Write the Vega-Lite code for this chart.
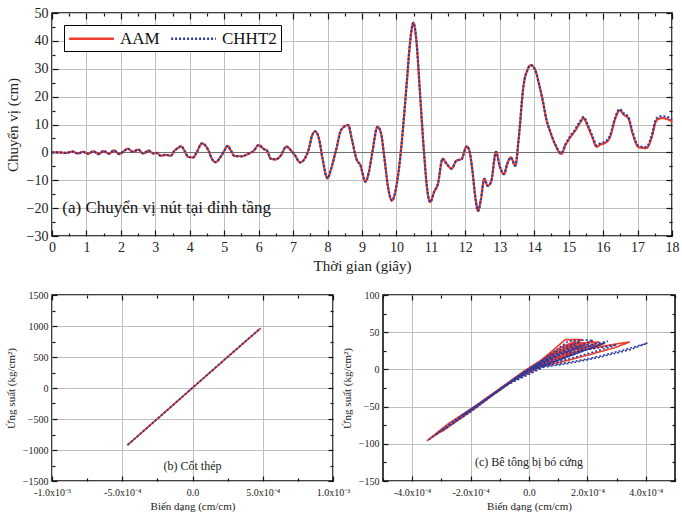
{
  "$schema": "https://vega.github.io/schema/vega-lite/v6.json",
  "background": "#ffffff",
  "padding": {"left": 4, "top": 5, "right": 5, "bottom": 5},
  "config": {
    "font": "Liberation Serif",
    "view": {"stroke": "#000", "strokeWidth": 1.5},
    "axis": {"labelFont": "Liberation Serif", "titleFont": "Liberation Serif", "titleFontWeight": "normal", "labelColor": "#222", "titleColor": "#222", "domain": false, "tickColor": "#111", "tickWidth": 1.2, "gridColor": "#c0c0c0", "labelFlush": false, "labelOverlap": false},
    "legend": {"labelFont": "Liberation Serif", "labelColor": "#111", "title": null, "orient": "top-left", "direction": "horizontal", "strokeColor": "#000", "fillColor": "#fff"}
  },
  "datasets": {
    "ts": [
      {"t":0,"AAM":0,"CHHT2":0},{"t":0.2,"AAM":0,"CHHT2":0},{"t":0.4,"AAM":-0.2,"CHHT2":-0.2},{"t":0.6,"AAM":0.3,"CHHT2":0.3},{"t":0.75,"AAM":-0.4,"CHHT2":-0.4},{"t":0.9,"AAM":0.2,"CHHT2":0.2},{"t":1.05,"AAM":-0.5,"CHHT2":-0.5},{"t":1.2,"AAM":0.4,"CHHT2":0.4},{"t":1.35,"AAM":-0.6,"CHHT2":-0.6},{"t":1.5,"AAM":0.5,"CHHT2":0.5},{"t":1.65,"AAM":-0.5,"CHHT2":-0.5},{"t":1.8,"AAM":0.7,"CHHT2":0.7},{"t":1.95,"AAM":-0.6,"CHHT2":-0.6},{"t":2.1,"AAM":0.6,"CHHT2":0.6},{"t":2.2,"AAM":1.3,"CHHT2":1.3},{"t":2.35,"AAM":0.2,"CHHT2":0.2},{"t":2.5,"AAM":1.0,"CHHT2":1.0},{"t":2.65,"AAM":-0.4,"CHHT2":-0.4},{"t":2.8,"AAM":0.6,"CHHT2":0.6},{"t":2.95,"AAM":-0.4,"CHHT2":-0.4},{"t":3.05,"AAM":-0.2,"CHHT2":-0.2},{"t":3.15,"AAM":-1.2,"CHHT2":-1.2},{"t":3.3,"AAM":-0.9,"CHHT2":-0.9},{"t":3.45,"AAM":-1.2,"CHHT2":-1.2},{"t":3.55,"AAM":0.5,"CHHT2":0.5},{"t":3.65,"AAM":1.5,"CHHT2":1.5},{"t":3.75,"AAM":2.2,"CHHT2":2.2},{"t":3.85,"AAM":0.5,"CHHT2":0.5},{"t":3.95,"AAM":-1.6,"CHHT2":-1.6},{"t":4.1,"AAM":-1.8,"CHHT2":-1.8},{"t":4.2,"AAM":0,"CHHT2":0},{"t":4.35,"AAM":3.2,"CHHT2":3.2},{"t":4.45,"AAM":2.5,"CHHT2":2.5},{"t":4.55,"AAM":0.5,"CHHT2":0.5},{"t":4.65,"AAM":-2.5,"CHHT2":-2.5},{"t":4.75,"AAM":-3.5,"CHHT2":-3.5},{"t":4.9,"AAM":-1.5,"CHHT2":-1.5},{"t":5.0,"AAM":0.5,"CHHT2":0.5},{"t":5.1,"AAM":2.3,"CHHT2":2.3},{"t":5.2,"AAM":0.5,"CHHT2":0.5},{"t":5.3,"AAM":-1.3,"CHHT2":-1.3},{"t":5.5,"AAM":-1.4,"CHHT2":-1.4},{"t":5.7,"AAM":-0.5,"CHHT2":-0.5},{"t":5.85,"AAM":0.5,"CHHT2":0.5},{"t":6.0,"AAM":2.6,"CHHT2":2.6},{"t":6.15,"AAM":1.2,"CHHT2":1.2},{"t":6.25,"AAM":0.5,"CHHT2":0.5},{"t":6.35,"AAM":-2.3,"CHHT2":-2.3},{"t":6.5,"AAM":-2.5,"CHHT2":-2.5},{"t":6.65,"AAM":-1,"CHHT2":-1},{"t":6.8,"AAM":2.1,"CHHT2":2.1},{"t":6.95,"AAM":0.5,"CHHT2":0.5},{"t":7.05,"AAM":-1,"CHHT2":-1},{"t":7.2,"AAM":-3.6,"CHHT2":-3.6},{"t":7.35,"AAM":-2,"CHHT2":-2},{"t":7.45,"AAM":1,"CHHT2":1},{"t":7.55,"AAM":6,"CHHT2":6},{"t":7.64,"AAM":7.5,"CHHT2":7.5},{"t":7.75,"AAM":5,"CHHT2":5},{"t":7.85,"AAM":-2,"CHHT2":-2},{"t":8.0,"AAM":-9.3,"CHHT2":-9.3},{"t":8.1,"AAM":-6,"CHHT2":-6},{"t":8.25,"AAM":1,"CHHT2":1},{"t":8.4,"AAM":8.2,"CHHT2":8.2},{"t":8.6,"AAM":9.8,"CHHT2":9.8},{"t":8.7,"AAM":5,"CHHT2":5},{"t":8.85,"AAM":-2.7,"CHHT2":-2.7},{"t":8.95,"AAM":-4.5,"CHHT2":-4.5},{"t":9.1,"AAM":-10.5,"CHHT2":-10.5},{"t":9.2,"AAM":-7,"CHHT2":-7},{"t":9.3,"AAM":0,"CHHT2":0},{"t":9.45,"AAM":9.2,"CHHT2":9.2},{"t":9.55,"AAM":7,"CHHT2":7},{"t":9.65,"AAM":-2,"CHHT2":-2},{"t":9.75,"AAM":-12,"CHHT2":-12},{"t":9.87,"AAM":-17.3,"CHHT2":-17.3},{"t":10.0,"AAM":-12,"CHHT2":-12},{"t":10.1,"AAM":-3,"CHHT2":-3},{"t":10.2,"AAM":10,"CHHT2":10},{"t":10.3,"AAM":25,"CHHT2":25},{"t":10.4,"AAM":40,"CHHT2":40},{"t":10.49,"AAM":46.5,"CHHT2":46.5},{"t":10.58,"AAM":40,"CHHT2":40},{"t":10.68,"AAM":22,"CHHT2":22},{"t":10.8,"AAM":0,"CHHT2":0},{"t":10.9,"AAM":-14,"CHHT2":-14},{"t":10.98,"AAM":-17.8,"CHHT2":-17.8},{"t":11.1,"AAM":-14,"CHHT2":-14},{"t":11.2,"AAM":-11.5,"CHHT2":-11.5},{"t":11.34,"AAM":-2.3,"CHHT2":-2.3},{"t":11.45,"AAM":-4,"CHHT2":-4},{"t":11.6,"AAM":-5.8,"CHHT2":-5.8},{"t":11.74,"AAM":-3,"CHHT2":-3},{"t":11.89,"AAM":-2.4,"CHHT2":-2.4},{"t":12.04,"AAM":2.2,"CHHT2":2.2},{"t":12.12,"AAM":0.5,"CHHT2":0.5},{"t":12.2,"AAM":-6,"CHHT2":-6},{"t":12.3,"AAM":-17,"CHHT2":-17},{"t":12.37,"AAM":-21,"CHHT2":-21},{"t":12.45,"AAM":-17,"CHHT2":-17},{"t":12.55,"AAM":-9.5,"CHHT2":-9.5},{"t":12.65,"AAM":-12,"CHHT2":-12},{"t":12.75,"AAM":-10.5,"CHHT2":-10.5},{"t":12.89,"AAM":0.2,"CHHT2":0.2},{"t":13.0,"AAM":-5,"CHHT2":-5},{"t":13.12,"AAM":-7.8,"CHHT2":-7.8},{"t":13.22,"AAM":-4,"CHHT2":-4},{"t":13.32,"AAM":-1.8,"CHHT2":-1.8},{"t":13.45,"AAM":-4.8,"CHHT2":-4.8},{"t":13.55,"AAM":5,"CHHT2":5},{"t":13.69,"AAM":24,"CHHT2":24},{"t":13.8,"AAM":29.5,"CHHT2":29.5},{"t":13.9,"AAM":31.3,"CHHT2":31.3},{"t":14.02,"AAM":29.8,"CHHT2":29.8},{"t":14.15,"AAM":24,"CHHT2":24},{"t":14.26,"AAM":17.8,"CHHT2":17.8},{"t":14.35,"AAM":12,"CHHT2":12},{"t":14.45,"AAM":8,"CHHT2":8},{"t":14.6,"AAM":3,"CHHT2":3.2},{"t":14.79,"AAM":-0.6,"CHHT2":-0.3},{"t":14.9,"AAM":2.5,"CHHT2":2.8},{"t":15.03,"AAM":5.1,"CHHT2":5.5},{"t":15.2,"AAM":8,"CHHT2":8.5},{"t":15.35,"AAM":11,"CHHT2":11.5},{"t":15.43,"AAM":12.3,"CHHT2":12.7},{"t":15.55,"AAM":9.5,"CHHT2":10},{"t":15.7,"AAM":5,"CHHT2":5.5},{"t":15.81,"AAM":2,"CHHT2":2.5},{"t":15.92,"AAM":2.8,"CHHT2":3.3},{"t":16.05,"AAM":3.3,"CHHT2":3.8},{"t":16.2,"AAM":5.5,"CHHT2":6},{"t":16.35,"AAM":12,"CHHT2":12.5},{"t":16.48,"AAM":15.1,"CHHT2":15.5},{"t":16.6,"AAM":13.5,"CHHT2":14},{"t":16.73,"AAM":12.3,"CHHT2":12.8},{"t":16.85,"AAM":7,"CHHT2":7.5},{"t":17.02,"AAM":2,"CHHT2":2.4},{"t":17.15,"AAM":1.6,"CHHT2":2},{"t":17.26,"AAM":1.5,"CHHT2":2},{"t":17.4,"AAM":5,"CHHT2":5.6},{"t":17.55,"AAM":11.5,"CHHT2":12.2},{"t":17.7,"AAM":12.3,"CHHT2":13},{"t":17.94,"AAM":11.5,"CHHT2":12.3},{"t":18.0,"AAM":10.8,"CHHT2":11.7}
    ],
    "steel": [
      {"i":0,"series":"AAM","x":-4.65e-4,"y":-925},{"i":1,"series":"AAM","x":-2.0e-4,"y":-398},{"i":2,"series":"AAM","x":0,"y":2},{"i":3,"series":"AAM","x":2.5e-4,"y":500},{"i":4,"series":"AAM","x":4.85e-4,"y":965},
      {"i":0,"series":"CHHT2","x":-4.6e-4,"y":-915},{"i":1,"series":"CHHT2","x":-2.0e-4,"y":-397},{"i":2,"series":"CHHT2","x":0,"y":3},{"i":3,"series":"CHHT2","x":2.5e-4,"y":501},{"i":4,"series":"CHHT2","x":4.82e-4,"y":960}
    ],
    "conc": [
      {"i":0,"series":"AAM","x":0,"y":0},{"i":1,"series":"AAM","x":-0.8e-4,"y":-22},{"i":2,"series":"AAM","x":-1.6e-4,"y":-45},{"i":3,"series":"AAM","x":-2.5e-4,"y":-70},{"i":4,"series":"AAM","x":-3.5e-4,"y":-96},{"i":5,"series":"AAM","x":-2.8e-4,"y":-74},{"i":6,"series":"AAM","x":-1.8e-4,"y":-48},{"i":7,"series":"AAM","x":-0.8e-4,"y":-20},{"i":8,"series":"AAM","x":-0.2e-4,"y":-3},{"i":9,"series":"AAM","x":0.4e-4,"y":12},{"i":10,"series":"AAM","x":0.8e-4,"y":25},{"i":11,"series":"AAM","x":1.24e-4,"y":40},{"i":12,"series":"AAM","x":1.5e-4,"y":40},{"i":13,"series":"AAM","x":1.83e-4,"y":40},{"i":14,"series":"AAM","x":1.3e-4,"y":30},{"i":15,"series":"AAM","x":0.6e-4,"y":13},{"i":16,"series":"AAM","x":0,"y":0},{"i":17,"series":"AAM","x":-1.2e-4,"y":-33},{"i":18,"series":"AAM","x":-2.2e-4,"y":-60},{"i":19,"series":"AAM","x":-1.4e-4,"y":-38},{"i":20,"series":"AAM","x":-0.4e-4,"y":-9},{"i":21,"series":"AAM","x":0.3e-4,"y":7},{"i":22,"series":"AAM","x":1.0e-4,"y":24},{"i":23,"series":"AAM","x":1.6e-4,"y":33},{"i":24,"series":"AAM","x":2.2e-4,"y":38},{"i":25,"series":"AAM","x":2.0e-4,"y":34},{"i":26,"series":"AAM","x":1.2e-4,"y":20},{"i":27,"series":"AAM","x":0.3e-4,"y":4},{"i":28,"series":"AAM","x":-0.5e-4,"y":-13},{"i":29,"series":"AAM","x":-1.9e-4,"y":-54},{"i":30,"series":"AAM","x":-3.0e-4,"y":-84},{"i":31,"series":"AAM","x":-2.0e-4,"y":-55},{"i":32,"series":"AAM","x":-0.6e-4,"y":-15},{"i":33,"series":"AAM","x":0.2e-4,"y":3},{"i":34,"series":"AAM","x":1.0e-4,"y":18},{"i":35,"series":"AAM","x":2.0e-4,"y":27},{"i":36,"series":"AAM","x":2.8e-4,"y":33},{"i":37,"series":"AAM","x":3.45e-4,"y":37},{"i":38,"series":"AAM","x":3.0e-4,"y":30},{"i":39,"series":"AAM","x":2.0e-4,"y":19},{"i":40,"series":"AAM","x":1.0e-4,"y":9},{"i":41,"series":"AAM","x":0.2e-4,"y":2},{"i":42,"series":"AAM","x":-0.7e-4,"y":-19},{"i":43,"series":"AAM","x":-1.6e-4,"y":-43},{"i":44,"series":"AAM","x":-0.8e-4,"y":-21},{"i":45,"series":"AAM","x":0,"y":0},{"i":46,"series":"AAM","x":1.2e-4,"y":26},{"i":47,"series":"AAM","x":1.9e-4,"y":34},{"i":48,"series":"AAM","x":1.2e-4,"y":21},{"i":49,"series":"AAM","x":0.4e-4,"y":7},{"i":50,"series":"AAM","x":0,"y":0},{"i":51,"series":"AAM","x":-1.0e-4,"y":-28},{"i":52,"series":"AAM","x":-2.6e-4,"y":-73},{"i":53,"series":"AAM","x":-1.5e-4,"y":-41},{"i":54,"series":"AAM","x":-0.3e-4,"y":-6},{"i":55,"series":"AAM","x":0.6e-4,"y":15},{"i":56,"series":"AAM","x":1.5e-4,"y":35},{"i":57,"series":"AAM","x":2.4e-4,"y":37},{"i":58,"series":"AAM","x":1.8e-4,"y":27},{"i":59,"series":"AAM","x":0.8e-4,"y":11},{"i":60,"series":"AAM","x":0,"y":0},{"i":61,"series":"AAM","x":0.9e-4,"y":21},{"i":62,"series":"AAM","x":2.6e-4,"y":35},{"i":63,"series":"AAM","x":1.6e-4,"y":22},{"i":64,"series":"AAM","x":0.5e-4,"y":6},{"i":65,"series":"AAM","x":-0.5e-4,"y":-14},{"i":66,"series":"AAM","x":-1.0e-4,"y":-27},{"i":67,"series":"AAM","x":0,"y":0},{"i":68,"series":"AAM","x":1.1e-4,"y":30},{"i":69,"series":"AAM","x":1.6e-4,"y":38},{"i":70,"series":"AAM","x":0.9e-4,"y":22},{"i":71,"series":"AAM","x":0,"y":0},
      {"i":0,"series":"CHHT2","x":0,"y":0},{"i":1,"series":"CHHT2","x":-0.9e-4,"y":-24},{"i":2,"series":"CHHT2","x":-1.8e-4,"y":-50},{"i":3,"series":"CHHT2","x":-2.7e-4,"y":-74},{"i":4,"series":"CHHT2","x":-3.45e-4,"y":-95},{"i":5,"series":"CHHT2","x":-2.6e-4,"y":-70},{"i":6,"series":"CHHT2","x":-1.6e-4,"y":-43},{"i":7,"series":"CHHT2","x":-0.7e-4,"y":-18},{"i":8,"series":"CHHT2","x":-0.2e-4,"y":-4},{"i":9,"series":"CHHT2","x":0.5e-4,"y":14},{"i":10,"series":"CHHT2","x":1.0e-4,"y":28},{"i":11,"series":"CHHT2","x":1.35e-4,"y":38},{"i":12,"series":"CHHT2","x":1.9e-4,"y":39.5},{"i":13,"series":"CHHT2","x":2.2e-4,"y":39},{"i":14,"series":"CHHT2","x":1.5e-4,"y":28},{"i":15,"series":"CHHT2","x":0.7e-4,"y":12},{"i":16,"series":"CHHT2","x":0,"y":-1},{"i":17,"series":"CHHT2","x":-1.3e-4,"y":-36},{"i":18,"series":"CHHT2","x":-2.3e-4,"y":-62},{"i":19,"series":"CHHT2","x":-1.3e-4,"y":-36},{"i":20,"series":"CHHT2","x":-0.3e-4,"y":-7},{"i":21,"series":"CHHT2","x":0.4e-4,"y":8},{"i":22,"series":"CHHT2","x":1.1e-4,"y":22},{"i":23,"series":"CHHT2","x":1.9e-4,"y":32},{"i":24,"series":"CHHT2","x":2.7e-4,"y":37.7},{"i":25,"series":"CHHT2","x":2.3e-4,"y":31},{"i":26,"series":"CHHT2","x":1.4e-4,"y":18},{"i":27,"series":"CHHT2","x":0.4e-4,"y":4},{"i":28,"series":"CHHT2","x":-0.6e-4,"y":-16},{"i":29,"series":"CHHT2","x":-2.0e-4,"y":-57},{"i":30,"series":"CHHT2","x":-3.2e-4,"y":-88},{"i":31,"series":"CHHT2","x":-2.1e-4,"y":-58},{"i":32,"series":"CHHT2","x":-0.5e-4,"y":-13},{"i":33,"series":"CHHT2","x":0.3e-4,"y":3},{"i":34,"series":"CHHT2","x":1.0e-4,"y":7},{"i":35,"series":"CHHT2","x":2.0e-4,"y":14},{"i":36,"series":"CHHT2","x":2.75e-4,"y":21},{"i":37,"series":"CHHT2","x":3.5e-4,"y":29},{"i":38,"series":"CHHT2","x":4.06e-4,"y":35.5},{"i":39,"series":"CHHT2","x":3.5e-4,"y":27},{"i":40,"series":"CHHT2","x":2.5e-4,"y":17},{"i":41,"series":"CHHT2","x":1.5e-4,"y":9},{"i":42,"series":"CHHT2","x":0.5e-4,"y":3},{"i":43,"series":"CHHT2","x":-0.8e-4,"y":-22},{"i":44,"series":"CHHT2","x":-1.7e-4,"y":-46},{"i":45,"series":"CHHT2","x":-0.8e-4,"y":-22},{"i":46,"series":"CHHT2","x":0,"y":-1},{"i":47,"series":"CHHT2","x":1.3e-4,"y":24},{"i":48,"series":"CHHT2","x":2.2e-4,"y":33},{"i":49,"series":"CHHT2","x":1.4e-4,"y":20},{"i":50,"series":"CHHT2","x":0.4e-4,"y":5},{"i":51,"series":"CHHT2","x":0,"y":0},{"i":52,"series":"CHHT2","x":-1.1e-4,"y":-30},{"i":53,"series":"CHHT2","x":-2.8e-4,"y":-77},{"i":54,"series":"CHHT2","x":-1.6e-4,"y":-44},{"i":55,"series":"CHHT2","x":-0.3e-4,"y":-7},{"i":56,"series":"CHHT2","x":0.6e-4,"y":13},{"i":57,"series":"CHHT2","x":1.6e-4,"y":31},{"i":58,"series":"CHHT2","x":2.6e-4,"y":36},{"i":59,"series":"CHHT2","x":2.0e-4,"y":27},{"i":60,"series":"CHHT2","x":1.0e-4,"y":12},{"i":61,"series":"CHHT2","x":0,"y":-1},{"i":62,"series":"CHHT2","x":1.0e-4,"y":20},{"i":63,"series":"CHHT2","x":3.0e-4,"y":33},{"i":64,"series":"CHHT2","x":2.0e-4,"y":21},{"i":65,"series":"CHHT2","x":0.6e-4,"y":6},{"i":66,"series":"CHHT2","x":-0.6e-4,"y":-17},{"i":67,"series":"CHHT2","x":-1.1e-4,"y":-30},{"i":68,"series":"CHHT2","x":0,"y":0},{"i":69,"series":"CHHT2","x":1.2e-4,"y":30},{"i":70,"series":"CHHT2","x":1.75e-4,"y":37},{"i":71,"series":"CHHT2","x":1.0e-4,"y":22},{"i":72,"series":"CHHT2","x":0,"y":0}
    ],
    "one": [{"k":1}]
  },
  "spacing": 59,
  "bounds": "flush",
  "vconcat": [
    {
      "width": 620,
      "height": 223,
      "resolve": {"axis": {"x": "independent", "y": "independent"}},
      "layer": [
        {
          "data": {"name": "ts"},
          "transform": [{"fold": ["AAM", "CHHT2"], "as": ["series", "value"]}],
          "mark": {"type": "line", "interpolate": "monotone", "strokeWidth": 2.2},
          "encoding": {
            "x": {"field": "t", "type": "quantitative", "scale": {"domain": [0, 18], "nice": false},
              "axis": {"orient": "bottom", "values": [0,1,2,3,4,5,6,7,8,9,10,11,12,13,14,15,16,17,18], "grid": true, "tickSize": -6, "labelPadding": 10, "labelFontSize": 14, "title": "Thời gian (giây)", "titleFontSize": 15, "titlePadding": 4}},
            "y": {"field": "value", "type": "quantitative", "scale": {"domain": [-30, 50], "nice": false},
              "axis": {"orient": "left", "values": [-30,-20,-10,0,10,20,30,40,50], "grid": true, "gridColor": {"condition": {"test": "datum.value === 0", "value": "#707070"}, "value": "#c0c0c0"}, "tickSize": -6, "labelPadding": 10, "labelFontSize": 14, "title": "Chuyển vị (cm)", "titleFontSize": 15, "titlePadding": 6}},
            "color": {"field": "series", "type": "nominal", "scale": {"domain": ["AAM", "CHHT2"], "range": ["#ee3d2c", "#2b3a9c"]},
              "legend": {"symbolType": "M-2.8,0H2.8", "symbolSize": 256, "symbolOffset": 14, "symbolStrokeWidth": 2.5, "labelFontSize": 17, "labelOffset": 19, "offset": 12, "padding": 4, "columnPadding": 6}},
            "strokeDash": {"field": "series", "type": "nominal", "scale": {"domain": ["AAM", "CHHT2"], "range": [[1, 0], [2, 2]]},
              "legend": {"symbolType": "M-2.8,0H2.8", "symbolSize": 256, "symbolOffset": 14, "symbolStrokeWidth": 2.5, "labelFontSize": 17, "labelOffset": 19, "offset": 12, "padding": 4, "columnPadding": 6}}
          }
        },
        {
          "data": {"name": "one"},
          "mark": {"type": "text", "align": "left", "baseline": "middle", "fontSize": 17, "font": "Liberation Serif", "color": "#111"},
          "encoding": {
            "x": {"datum": 0.3, "type": "quantitative", "axis": null},
            "y": {"datum": -20, "type": "quantitative", "axis": null},
            "text": {"value": "(a) Chuyển vị nút tại đỉnh tầng"}
          }
        },
        {
          "data": {"name": "one"},
          "mark": {"type": "point", "opacity": 0},
          "encoding": {
            "x": {"datum": 0, "type": "quantitative", "axis": {"orient": "bottom", "values": [0.5,1.5,2.5,3.5,4.5,5.5,6.5,7.5,8.5,9.5,10.5,11.5,12.5,13.5,14.5,15.5,16.5,17.5], "tickSize": -3, "labels": false, "grid": false, "title": null}},
            "y": {"datum": 0, "type": "quantitative", "axis": {"orient": "left", "values": [-25,-15,-5,5,15,25,35,45], "tickSize": -3, "labels": false, "grid": false, "title": null}}
          }
        },
        {
          "data": {"name": "one"},
          "mark": {"type": "point", "opacity": 0},
          "encoding": {
            "x": {"datum": 0, "type": "quantitative", "axis": {"orient": "top", "values": [0,1,2,3,4,5,6,7,8,9,10,11,12,13,14,15,16,17,18], "tickSize": -6, "labels": false, "grid": false, "title": null}},
            "y": {"datum": 0, "type": "quantitative", "axis": {"orient": "right", "values": [-30,-20,-10,0,10,20,30,40,50], "tickSize": -6, "labels": false, "grid": false, "title": null}}
          }
        },
        {
          "data": {"name": "one"},
          "mark": {"type": "point", "opacity": 0},
          "encoding": {
            "x": {"datum": 0, "type": "quantitative", "axis": {"orient": "top", "values": [0.5,1.5,2.5,3.5,4.5,5.5,6.5,7.5,8.5,9.5,10.5,11.5,12.5,13.5,14.5,15.5,16.5,17.5], "tickSize": -3, "labels": false, "grid": false, "title": null}},
            "y": {"datum": 0, "type": "quantitative", "axis": {"orient": "right", "values": [-25,-15,-5,5,15,25,35,45], "tickSize": -3, "labels": false, "grid": false, "title": null}}
          }
        }
      ]
    },
    {
      "spacing": 50,
      "bounds": "flush",
      "hconcat": [
        {
          "width": 281,
          "height": 186,
          "resolve": {"axis": {"x": "independent", "y": "independent"}},
          "layer": [
            {
              "data": {"name": "steel"},
              "mark": {"type": "line", "strokeWidth": 1.8},
              "encoding": {
                "x": {"field": "x", "type": "quantitative", "scale": {"domain": [-0.001, 0.001], "nice": false},
                  "axis": {"orient": "bottom", "values": [-0.001, -0.0005, 0, 0.0005, 0.001], "labelExpr": "datum.value == 0 ? '0.0' : (datum.value < 0 ? '-' : '') + (abs(datum.value) > 0.0007 ? '1.0x10⁻³' : '5.0x10⁻⁴')", "grid": true, "tickSize": -5, "labelPadding": 11, "labelFontSize": 10, "title": "Biến dạng (cm/cm)", "titleFontSize": 11, "titlePadding": 3}},
                "y": {"field": "y", "type": "quantitative", "scale": {"domain": [-1500, 1500], "nice": false},
                  "axis": {"orient": "left", "values": [-1500,-1000,-500,0,500,1000,1500], "format": "d", "grid": true, "tickSize": -5, "labelPadding": 9, "labelFontSize": 10, "title": "Ứng suất (kg/cm²)", "titleFontSize": 11, "titlePadding": 6}},
                "order": {"field": "i", "type": "quantitative"},
                "color": {"field": "series", "type": "nominal", "scale": {"domain": ["AAM", "CHHT2"], "range": ["#ee3d2c", "#2b3a9c"]},
                  "legend": {"symbolType": "M-2.7,0H2.7", "symbolSize": 121, "symbolOffset": 9, "symbolStrokeWidth": 2, "labelFontSize": 12, "labelOffset": 13, "offset": 4, "padding": 2, "columnPadding": 4}},
                "strokeDash": {"field": "series", "type": "nominal", "scale": {"domain": ["AAM", "CHHT2"], "range": [[1, 0], [2, 1.5]]},
                  "legend": {"symbolType": "M-2.7,0H2.7", "symbolSize": 121, "symbolOffset": 9, "symbolStrokeWidth": 2, "labelFontSize": 12, "labelOffset": 13, "offset": 4, "padding": 2, "columnPadding": 4}}
              }
            },
            {
              "data": {"name": "one"},
              "mark": {"type": "text", "align": "center", "baseline": "middle", "fontSize": 12, "font": "Liberation Serif", "color": "#222"},
              "encoding": {
                "x": {"datum": 0, "type": "quantitative", "axis": null},
                "y": {"datum": -1250, "type": "quantitative", "axis": null},
                "text": {"value": "(b) Cốt thép"}
              }
            },
            {
              "data": {"name": "one"},
              "mark": {"type": "point", "opacity": 0},
              "encoding": {
                "x": {"datum": 0, "type": "quantitative", "axis": {"orient": "bottom", "values": [-0.00075, -0.00025, 0.00025, 0.00075], "tickSize": -3, "labels": false, "grid": false, "title": null}},
                "y": {"datum": 0, "type": "quantitative", "axis": {"orient": "left", "values": [-1250,-750,-250,250,750,1250], "tickSize": -3, "labels": false, "grid": false, "title": null}}
              }
            },
            {
              "data": {"name": "one"},
              "mark": {"type": "point", "opacity": 0},
              "encoding": {
                "x": {"datum": 0, "type": "quantitative", "axis": {"orient": "top", "values": [-0.001, -0.0005, 0, 0.0005, 0.001], "tickSize": -5, "labels": false, "grid": false, "title": null}},
                "y": {"datum": 0, "type": "quantitative", "axis": {"orient": "right", "values": [-1500,-1000,-500,0,500,1000,1500], "tickSize": -5, "labels": false, "grid": false, "title": null}}
              }
            },
            {
              "data": {"name": "one"},
              "mark": {"type": "point", "opacity": 0},
              "encoding": {
                "x": {"datum": 0, "type": "quantitative", "axis": {"orient": "top", "values": [-0.00075, -0.00025, 0.00025, 0.00075], "tickSize": -3, "labels": false, "grid": false, "title": null}},
                "y": {"datum": 0, "type": "quantitative", "axis": {"orient": "right", "values": [-1250,-750,-250,250,750,1250], "tickSize": -3, "labels": false, "grid": false, "title": null}}
              }
            }
          ]
        },
        {
          "width": 292,
          "height": 186,
          "resolve": {"axis": {"x": "independent", "y": "independent"}},
          "layer": [
            {
              "data": {"name": "conc"},
              "mark": {"type": "line", "strokeWidth": 1.6},
              "encoding": {
                "x": {"field": "x", "type": "quantitative", "scale": {"domain": [-0.0005, 0.0005], "nice": false},
                  "axis": {"orient": "bottom", "values": [-0.0004, -0.0002, 0, 0.0002, 0.0004], "labelExpr": "datum.value == 0 ? '0.0' : (datum.value < 0 ? '-' : '') + format(abs(datum.value) * 10000, '.1f') + 'x10⁻⁴'", "grid": true, "tickSize": -5, "labelPadding": 11, "labelFontSize": 10, "title": "Biến dạng (cm/cm)", "titleFontSize": 11, "titlePadding": 3}},
                "y": {"field": "y", "type": "quantitative", "scale": {"domain": [-150, 100], "nice": false},
                  "axis": {"orient": "left", "values": [-150,-100,-50,0,50,100], "grid": true, "tickSize": -5, "labelPadding": 9, "labelFontSize": 10, "title": "Ứng suất (kg/cm²)", "titleFontSize": 11, "titlePadding": 6}},
                "order": {"field": "i", "type": "quantitative"},
                "color": {"field": "series", "type": "nominal", "scale": {"domain": ["AAM", "CHHT2"], "range": ["#ee3d2c", "#2b3a9c"]},
                  "legend": {"symbolType": "M-2.7,0H2.7", "symbolSize": 121, "symbolOffset": 9, "symbolStrokeWidth": 2, "labelFontSize": 12, "labelOffset": 13, "offset": 6, "padding": 3, "columnPadding": 4}},
                "strokeDash": {"field": "series", "type": "nominal", "scale": {"domain": ["AAM", "CHHT2"], "range": [[1, 0], [2, 1.5]]},
                  "legend": {"symbolType": "M-2.7,0H2.7", "symbolSize": 121, "symbolOffset": 9, "symbolStrokeWidth": 2, "labelFontSize": 12, "labelOffset": 13, "offset": 6, "padding": 3, "columnPadding": 4}}
              }
            },
            {
              "data": {"name": "one"},
              "mark": {"type": "text", "align": "center", "baseline": "middle", "fontSize": 12, "font": "Liberation Serif", "color": "#222"},
              "encoding": {
                "x": {"datum": 0, "type": "quantitative", "axis": null},
                "y": {"datum": -124, "type": "quantitative", "axis": null},
                "text": {"value": "(c) Bê tông bị bó cứng"}
              }
            },
            {
              "data": {"name": "one"},
              "mark": {"type": "point", "opacity": 0},
              "encoding": {
                "x": {"datum": 0, "type": "quantitative", "axis": {"orient": "bottom", "values": [-0.0005, -0.0003, -0.0001, 0.0001, 0.0003, 0.0005], "tickSize": -3, "labels": false, "grid": false, "title": null}},
                "y": {"datum": 0, "type": "quantitative", "axis": {"orient": "left", "values": [-125,-75,-25,25,75], "tickSize": -3, "labels": false, "grid": false, "title": null}}
              }
            },
            {
              "data": {"name": "one"},
              "mark": {"type": "point", "opacity": 0},
              "encoding": {
                "x": {"datum": 0, "type": "quantitative", "axis": {"orient": "top", "values": [-0.0004, -0.0002, 0, 0.0002, 0.0004], "tickSize": -5, "labels": false, "grid": false, "title": null}},
                "y": {"datum": 0, "type": "quantitative", "axis": {"orient": "right", "values": [-150,-100,-50,0,50,100], "tickSize": -5, "labels": false, "grid": false, "title": null}}
              }
            },
            {
              "data": {"name": "one"},
              "mark": {"type": "point", "opacity": 0},
              "encoding": {
                "x": {"datum": 0, "type": "quantitative", "axis": {"orient": "top", "values": [-0.0005, -0.0003, -0.0001, 0.0001, 0.0003, 0.0005], "tickSize": -3, "labels": false, "grid": false, "title": null}},
                "y": {"datum": 0, "type": "quantitative", "axis": {"orient": "right", "values": [-125,-75,-25,25,75], "tickSize": -3, "labels": false, "grid": false, "title": null}}
              }
            }
          ]
        }
      ]
    }
  ]
}
